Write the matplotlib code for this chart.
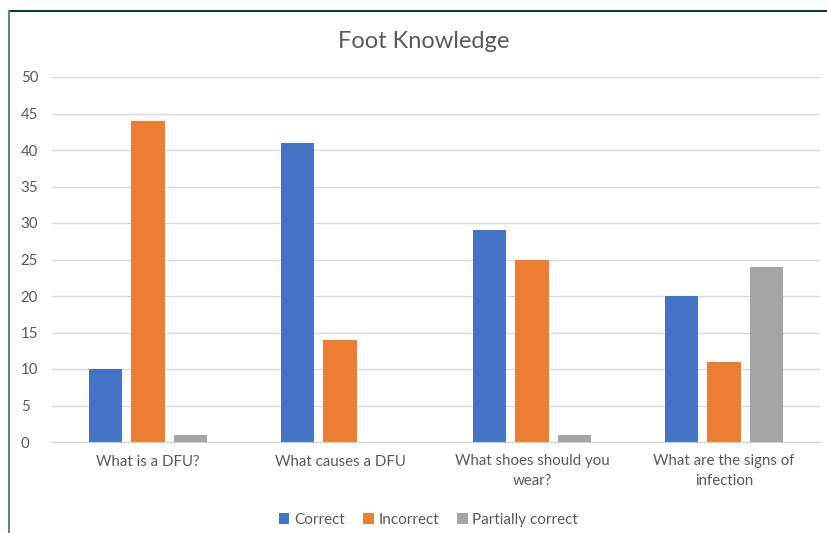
import matplotlib.pyplot as plt
import matplotlib.lines as mlines
import numpy as np

# data
questions = ['What is a DFU?', 'What causes a DFU', 'What shoes should you\nwear?',
             'What are the signs of\ninfection']
correct = [10, 41, 29, 20]
incorrect = [44, 14, 25, 11]
partially = [1, 0, 1, 24]
series_names = ['Correct', 'Incorrect', 'Partially correct']
yticks = list(range(0, 51, 5))

colors = ['#4472C4', '#ED7D31', '#A5A5A5']
plt.rcParams['font.family'] = ['Lato', 'DejaVu Sans']

fig = plt.figure(figsize=(8.27, 5.33), dpi=100)
ax = fig.add_axes([52 / 827, 1 - 442 / 533, (820 - 52) / 827, (442 - 77) / 533])

x = np.arange(len(questions))
w = 0.172
off = 0.22
for i, (vals, name) in enumerate(zip([correct, incorrect, partially], series_names)):
    ax.bar(x + (i - 1) * off, vals, width=w, color=colors[i], label=name, zorder=3)

ax.set_xlim(-0.5, len(questions) - 0.5)
ax.set_ylim(0, 50)
ax.set_yticks(yticks)
ax.set_xticks(x)
ax.set_xticklabels(questions, fontsize=10.8, color='#595959', linespacing=1.5)
ax.tick_params(axis='y', labelsize=10.8, labelcolor='#595959', length=0, pad=22.5)
ax.tick_params(axis='x', length=0, pad=9)
for lab in ax.get_yticklabels():
    lab.set_horizontalalignment('left')
ax.grid(axis='y', color='#D9D9D9', linewidth=1, zorder=0)
for s in ['top', 'right', 'left']:
    ax.spines[s].set_visible(False)
ax.spines['bottom'].set_color('#D0D0D0')

fig.text(0.512, 1 - 42 / 533, 'Foot Knowledge', ha='center', va='center', fontsize=17, color='#595959')

ax.legend(loc='center', bbox_to_anchor=(0.518, 1 - 520 / 533), bbox_transform=fig.transFigure,
          ncol=3, frameon=False, fontsize=11, labelcolor='#595959',
          handlelength=0.7, handleheight=0.7, handletextpad=0.3, columnspacing=1.2)

# frame around chart
fig.add_artist(mlines.Line2D([8.5 / 827, 1.0], [1 - 10.5 / 533] * 2, color='#0E3B2B', lw=1.5, transform=fig.transFigure))
fig.add_artist(mlines.Line2D([8.5 / 827] * 2, [0, 1 - 10.5 / 533], color='#5E8575', lw=1.5, transform=fig.transFigure))

fig.savefig('out.png', dpi=100)
